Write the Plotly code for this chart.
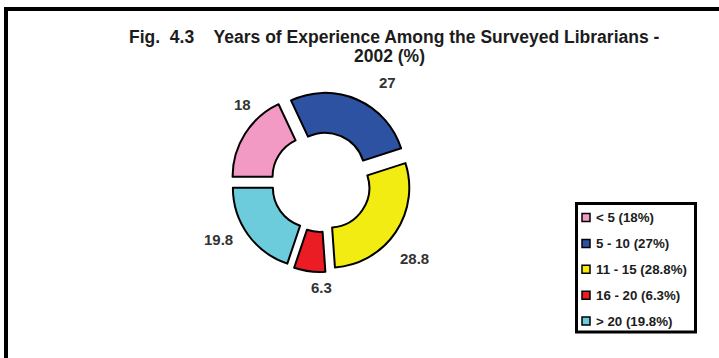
import plotly.graph_objects as go

# Survey data: years of experience of librarians, 2002 (%)
categories = ["< 5", "5 - 10", "11 - 15", "16 - 20", "> 20"]
shares = [18, 27, 28.8, 6.3, 19.8]
colors = ["#F39AC4", "#2E52A2", "#F2EC12", "#EC1C24", "#6CCCDC"]

W, H = 719, 358


def px(x):
    return x / W


def py(y):
    return 1 - y / H


FONT = "Liberation Sans, Arial, sans-serif"
INK = "#1c1c1c"
NB = "\u00a0"

fig = go.Figure()

fig.add_trace(go.Pie(
    labels=categories,
    values=shares,
    sort=False,
    direction="clockwise",
    rotation=270,
    hole=0.5,
    pull=[0.125] * len(shares),
    marker=dict(colors=colors, line=dict(color="black", width=2)),
    textinfo="none",
    hoverinfo="label+value",
    showlegend=False,
    domain=dict(x=[px(231), px(411)], y=[py(272), py(92)]),
))

# value labels around the ring
label_pos = [(242, 105), (387, 82), (415, 258), (321, 287), (218, 239)]
annotations = []
for v, (lx, ly) in zip(shares, label_pos):
    annotations.append(dict(
        x=px(lx), y=py(ly), xref="paper", yref="paper",
        text=f"<b>{v:g}</b>", showarrow=False,
        font=dict(family=FONT, size=15, color="#333333"),
        xanchor="center", yanchor="middle",
    ))

# two-line title
title_line1 = f"Fig.{NB * 2}4.3{NB * 4}Years of Experience Among the Surveyed Librarians -"
title_line2 = "2002 (%)"
annotations.append(dict(
    x=px(127), y=py(37), xref="paper", yref="paper",
    text=f"<b>{title_line1}</b>", showarrow=False,
    font=dict(family=FONT, size=17.5, color=INK),
    xanchor="left", yanchor="middle",
))
annotations.append(dict(
    x=px(390), y=py(55.5), xref="paper", yref="paper",
    text=f"<b>{title_line2}</b>", showarrow=False,
    font=dict(family=FONT, size=17.5, color=INK),
    xanchor="center", yanchor="middle",
))

shapes = [
    # outer frame
    dict(type="rect", xref="paper", yref="paper",
         x0=px(6), x1=1.05, y0=-0.05, y1=py(9),
         line=dict(color="black", width=4), fillcolor="rgba(0,0,0,0)"),
    # legend box
    dict(type="rect", xref="paper", yref="paper",
         x0=px(576.5), x1=px(695.5), y0=py(332), y1=py(203.5),
         line=dict(color="black", width=3), fillcolor="white"),
]

# legend entries
row0, row_step = 217.5, 25.9
for i, (cat, v, c) in enumerate(zip(categories, shares, colors)):
    yc = row0 + i * row_step
    shapes.append(dict(
        type="rect", xref="paper", yref="paper",
        x0=px(582), x1=px(590), y0=py(yc + 4), y1=py(yc - 4),
        line=dict(color="black", width=1.5), fillcolor=c,
    ))
    annotations.append(dict(
        x=px(594), y=py(yc), xref="paper", yref="paper",
        text=f"<b>{cat} ({v:g}%)</b>", showarrow=False,
        font=dict(family=FONT, size=13.3, color=INK),
        xanchor="left", yanchor="middle",
    ))

fig.update_layout(
    width=W, height=H,
    margin=dict(l=0, r=0, t=0, b=0),
    paper_bgcolor="white", plot_bgcolor="white",
    shapes=shapes, annotations=annotations,
    showlegend=False,
)

fig.write_html("out.html")
